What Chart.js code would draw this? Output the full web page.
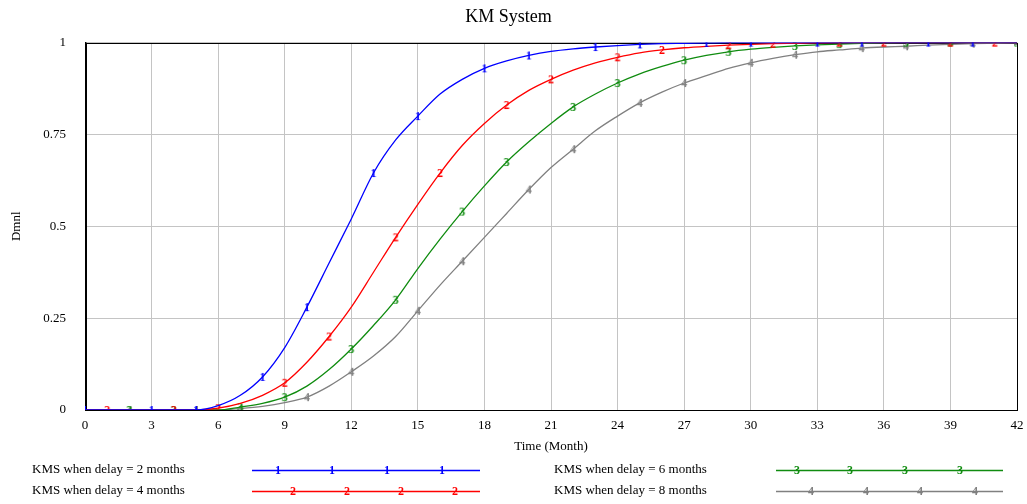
<!DOCTYPE html>
<html>
<head>
<meta charset="utf-8">
<script src="https://cdn.jsdelivr.net/npm/chart.js@4.4.0/dist/chart.umd.min.js"></script>
<style>
  body { margin: 0; background: #fff; }
  #wrap { width: 1027px; height: 504px; }
</style>
</head>
<body>
<div id="wrap"><canvas id="myChart" width="1027" height="504"></canvas></div>
<script>
var months = [0,1,2,3,4,5,6,7,8,9,10,11,12,13,14,15,16,17,18,19,20,21,22,23,24,25,26,27,28,29,30,31,32,33,34,35,36,37,38,39,40,41,42];

var delay2 = [0,0,0,0,0,0,0.012,0.04,0.09,0.17,0.28,0.40,0.52,0.645,0.735,0.80,0.86,0.90,0.93,0.95,0.965,0.976,0.983,0.988,0.992,0.995,0.997,0.998,0.999,1,1,1,1,1,1,1,1,1,1,1,1,1,1];
var delay4 = [0,0,0,0,0,0,0.005,0.018,0.04,0.074,0.13,0.20,0.28,0.375,0.47,0.56,0.645,0.72,0.78,0.83,0.87,0.90,0.925,0.945,0.96,0.972,0.98,0.986,0.99,0.993,0.995,0.997,0.998,0.999,1,1,1,1,1,1,1,1,1];
var delay6 = [0,0,0,0,0,0,0,0.008,0.018,0.035,0.065,0.11,0.166,0.23,0.30,0.385,0.465,0.54,0.61,0.675,0.73,0.78,0.825,0.86,0.89,0.915,0.935,0.952,0.965,0.975,0.982,0.987,0.991,0.994,0.996,0.998,0.999,1,1,1,1,1,1];
var delay8 = [0,0,0,0,0,0,0,0.004,0.01,0.02,0.035,0.065,0.104,0.147,0.20,0.27,0.34,0.405,0.47,0.535,0.60,0.66,0.71,0.76,0.80,0.836,0.865,0.89,0.91,0.93,0.945,0.957,0.967,0.975,0.98,0.985,0.988,0.99,0.993,0.995,0.997,0.998,0.999];

var seriesNames = ["KMS when delay = 2 months", "KMS when delay = 4 months", "KMS when delay = 6 months", "KMS when delay = 8 months"];
var yTickLabels = {"0": "0", "0.25": "0.25", "0.5": "0.5", "0.75": "0.75", "1": "1"};

var serif = "'Liberation Serif', 'Times New Roman', serif";
var colors = ["#0000ff", "#ff0000", "#108c10", "#808080"];

// little digit glyphs used as line markers, like the original tool draws
function glyph(txt, color) {
  var c = document.createElement('canvas');
  c.width = 10; c.height = 14;
  var g = c.getContext('2d');
  g.fillStyle = color;
  g.font = "bold 12px " + serif;
  g.textAlign = 'center';
  g.textBaseline = 'middle';
  g.fillText(txt, 5, 7.5);
  return c;
}
var glyphs = [glyph("1", colors[0]), glyph("2", colors[1]), glyph("3", colors[2]), glyph("4", colors[3])];
var markerOffset = [0.5, 1.5, 2, 2.5];

function isMarker(ds, i) {
  for (var k = 0; k < 20; k++) {
    if (Math.floor(markerOffset[ds] + 2.5 * k) === i) return true;
  }
  return false;
}

function toXY(vals) {
  return vals.map(function (v, i) { return {x: months[i], y: v}; });
}

var allSeries = [delay2, delay4, delay6, delay8];
var datasets = allSeries.map(function (vals, d) {
  return {
    label: seriesNames[d],
    data: toXY(vals),
    borderColor: colors[d],
    backgroundColor: colors[d],
    borderWidth: 1.3,
    cubicInterpolationMode: 'monotone',
    pointStyle: glyphs[d],
    pointRadius: function (ctx) { return isMarker(d, ctx.dataIndex) ? 4 : 0; },
    pointHoverRadius: 0
  };
});

var frameAndLegend = {
  id: 'frameAndLegend',
  beforeDatasetsDraw: function (chart) {
    var a = chart.chartArea, c = chart.ctx;
    c.save();
    c.strokeStyle = '#000';
    c.lineWidth = 1;
    c.strokeRect(Math.round(a.left) + 0.5, Math.round(a.top) + 0.5, Math.round(a.right - a.left), Math.round(a.bottom - a.top));
    c.beginPath();
    c.moveTo(Math.round(a.left) + 1.5, a.top);
    c.lineTo(Math.round(a.left) + 1.5, a.bottom);
    c.stroke();
    c.restore();
  },
  afterDraw: function (chart) {
    var c = chart.ctx;
    var rows = [
      {tx: 32, ty: 470, x1: 252, x2: 480, marks: [278, 332, 387, 442]},
      {tx: 32, ty: 491, x1: 252, x2: 480, marks: [293, 347, 401, 455]},
      {tx: 554, ty: 470, x1: 776, x2: 1003, marks: [797, 850, 905, 960]},
      {tx: 554, ty: 491, x1: 776, x2: 1003, marks: [811, 866, 920, 975]}
    ];
    c.save();
    rows.forEach(function (r, d) {
      c.fillStyle = '#000';
      c.font = "13px " + serif;
      c.textAlign = 'left';
      c.textBaseline = 'middle';
      c.fillText(seriesNames[d], r.tx, r.ty);
      c.strokeStyle = colors[d];
      c.lineWidth = 1.3;
      c.beginPath();
      c.moveTo(r.x1, r.ty + 0.5);
      c.lineTo(r.x2, r.ty + 0.5);
      c.stroke();
      r.marks.forEach(function (mx) {
        c.drawImage(glyphs[d], mx - 5, r.ty - 7);
      });
    });
    c.restore();
  }
};

var ctx = document.getElementById('myChart').getContext('2d');
var myChart = new Chart(ctx, {
  type: 'line',
  data: { datasets: datasets },
  options: {
    responsive: false,
    animation: false,
    layout: { padding: { left: 0, right: 10, top: 0, bottom: 50 } },
    scales: {
      x: {
        type: 'linear',
        min: 0, max: 42,
        afterFit: function (s) { s.height = 44; s.paddingRight = 0; s.paddingLeft = 0; },
        ticks: { stepSize: 3, color: '#000', padding: 8, maxRotation: 0, font: { family: serif, size: 13 } },
        grid: { color: '#c4c4c4', drawTicks: false },
        border: { color: '#000' },
        title: { display: true, text: 'Time (Month)', color: '#000', padding: { top: 0, bottom: 0 }, font: { family: serif, size: 13 } }
      },
      y: {
        min: 0, max: 1,
        afterFit: function (s) { s.width = 85; },
        ticks: {
          stepSize: 0.25, color: '#000', padding: 19, font: { family: serif, size: 13 },
          callback: function (v) { return yTickLabels[String(v)]; }
        },
        grid: { color: '#c4c4c4', drawTicks: false },
        border: { color: '#000' },
        title: { display: true, text: 'Dmnl', color: '#000', padding: { top: 9, bottom: 0 }, font: { family: serif, size: 13 } }
      }
    },
    plugins: {
      legend: { display: false },
      tooltip: { enabled: false },
      title: {
        display: true,
        text: 'KM System',
        color: '#000',
        padding: { top: 6, bottom: 15 },
        font: { family: serif, size: 18, weight: 'normal' }
      }
    }
  },
  plugins: [frameAndLegend]
});
</script>
</body>
</html>
